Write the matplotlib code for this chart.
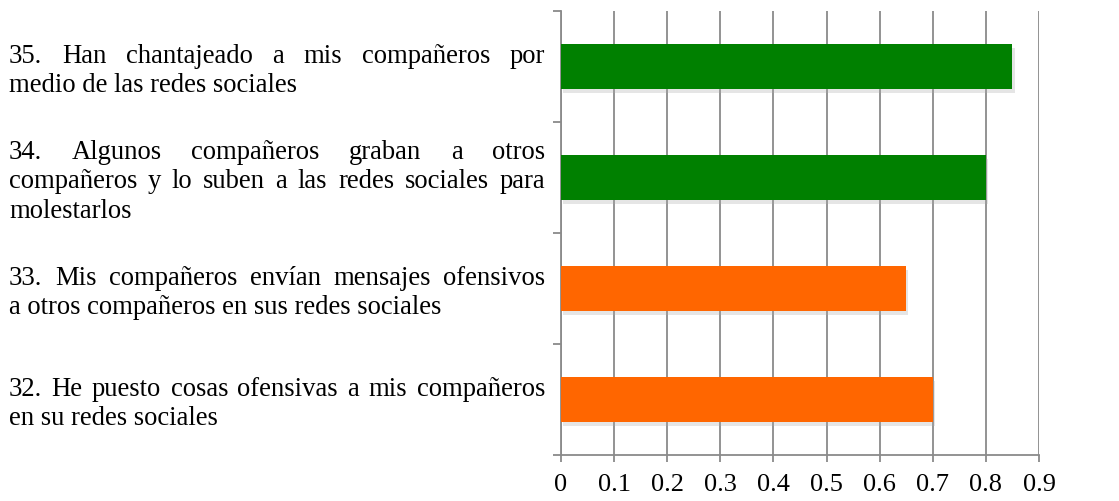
import numpy as np
import matplotlib
matplotlib.use('Agg')
import matplotlib.pyplot as plt
import matplotlib.patheffects as pe

# Data (bottom to top)
items = ['32', '33', '34', '35']
labels = [
    ['32. He puesto cosas ofensivas a mis compañeros', 'en su redes sociales'],
    ['33. Mis compañeros envían mensajes ofensivos', 'a otros compañeros en sus redes sociales'],
    ['34. Algunos compañeros graban a otros',
     'compañeros y lo suben a las redes sociales para', 'molestarlos'],
    ['35. Han chantajeado a mis compañeros por', 'medio de las redes sociales'],
]
values = [0.70, 0.65, 0.80, 0.85]
colors = ['#FF6600', '#FF6600', '#008000', '#008000']
xticks = [0, 0.1, 0.2, 0.3, 0.4, 0.5, 0.6, 0.7, 0.8, 0.9]

W, H = 1119, 502
font = 'Liberation Serif'
fs = 19.2
grid_c = '#8a8a8a'

fig = plt.figure(figsize=(W / 100, H / 100), dpi=100)
ax = fig.add_axes([561 / W, 1 - 456 / H, (1039 - 561) / W, (456 - 12) / H])

y = np.arange(len(items))
ax.barh(y, values, height=0.41, color=colors, zorder=3,
        path_effects=[pe.SimplePatchShadow(offset=(1.5, -3), shadow_rgbFace='#aaaaaa', alpha=0.3), pe.Normal()])

ax.set_xlim(0, 0.9)
ax.set_ylim(-0.5, len(items) - 0.5)
ax.set_xticks(xticks)
ax.set_xticklabels([f'{v:g}' for v in xticks], fontfamily=font, fontsize=19)
ax.set_yticks(np.arange(-0.5, len(items), 1.0))
ax.set_yticklabels([])
ax.set_axisbelow(True)
ax.grid(axis='x', color=grid_c, linewidth=1.3)
for s in ['top', 'right']:
    ax.spines[s].set_visible(False)
for s in ['left', 'bottom']:
    ax.spines[s].set_color(grid_c)
    ax.spines[s].set_linewidth(1.3)
ax.tick_params(axis='x', length=5, color=grid_c, width=1.3, pad=8)
ax.tick_params(axis='y', length=6, color=grid_c, width=1.3)

# category labels, justified like the original text block
renderer = fig.canvas.get_renderer()
left_px, right_px = 9, 545
gap = 29.5


def text_width(s):
    t = fig.text(0, 0, s, fontfamily=font, fontsize=fs)
    w = t.get_window_extent(renderer).width
    t.remove()
    return w


for pos, lines in zip(y, labels):
    yc = ax.transData.transform((0, pos))[1]
    n = len(lines)
    for i, line in enumerate(lines):
        yb = yc - (i - (n - 1) / 2) * gap - 10
        words = line.split()
        if i < n - 1 and len(words) > 1:
            widths = [text_width(wd) for wd in words]
            space = (right_px - left_px - sum(widths)) / (len(words) - 1)
            x = left_px
            for wd, w in zip(words, widths):
                fig.text(x / W, yb / H, wd, fontfamily=font, fontsize=fs, va='baseline')
                x += w + space
        else:
            fig.text(left_px / W, yb / H, line, fontfamily=font, fontsize=fs, va='baseline')

fig.savefig('out.png', dpi=100)
